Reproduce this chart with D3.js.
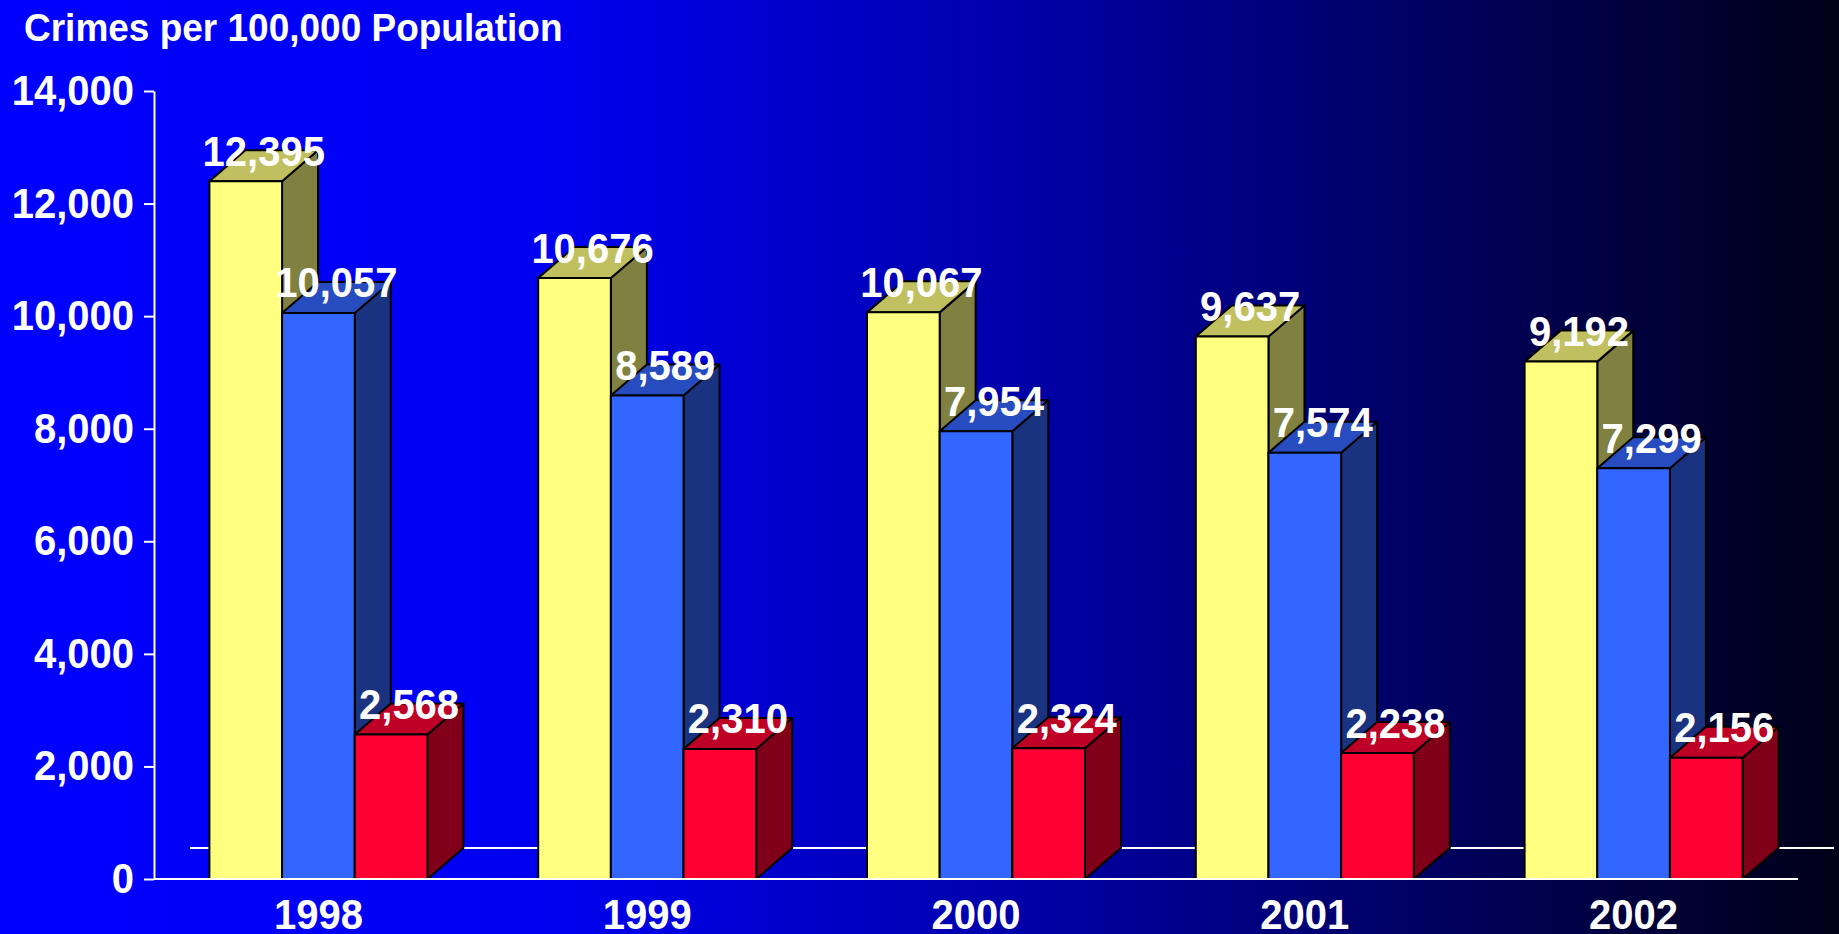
<!DOCTYPE html>
<html>
<head>
<meta charset="utf-8">
<script src="https://cdn.jsdelivr.net/npm/d3@7"></script>
<style>
  body { margin: 0; background: #000; }
  svg text { font-family: "Liberation Sans", Arial, sans-serif; font-weight: bold; fill: #fff; }
</style>
</head>
<body>
<script>
// data
var years = ["1998", "1999", "2000", "2001", "2002"];
var seriesKeys = ["total", "property", "violent"];
var totalCrime = [12395, 10676, 10067, 9637, 9192];
var propertyCrime = [10057, 8589, 7954, 7574, 7299];
var violentCrime = [2568, 2310, 2324, 2238, 2156];
var yTicks = [0, 2000, 4000, 6000, 8000, 10000, 12000, 14000];

var values = { total: totalCrime, property: propertyCrime, violent: violentCrime };

const w = 1839,
      h = 934,
      padLeft = 154,
      padRight = 1798,
      plotTop = 91,
      plotBottom = 879,
      groupW = 218,
      dx = 36,
      dy = 31,
      stretch = 1.05;   // the original type is a touch taller than Arial

// front / top / side shades
const colors = {
  total:    { front: "#FFFF80", top: "#C0C060", side: "#808040" },
  property: { front: "#3366FF", top: "#264CBF", side: "#1A3380" },
  violent:  { front: "#FF0033", top: "#BF0026", side: "#800019" }
};

const x0 = d3.scaleBand().domain(years).range([padLeft, padRight]);
const x1 = d3.scaleBand().domain(seriesKeys).range([0, groupW]);
const y = d3.scaleLinear().domain([0, 14000]).range([plotBottom, plotTop]);

const svg = d3.select("body").append("svg")
    .attr("width", w)
    .attr("height", h)
    .style("display", "block");

const grad = svg.append("defs").append("linearGradient")
    .attr("id", "bg")
    .attr("x1", "0%").attr("x2", "100%").attr("y1", "0%").attr("y2", "0%");
[[0, "#0000FF"], [0.3, "#0000F0"], [0.55, "#0000AA"], [0.76, "#000066"], [1, "#000018"]]
  .forEach(s => grad.append("stop").attr("offset", s[0]).attr("stop-color", s[1]));

svg.append("rect").attr("width", w).attr("height", h).attr("fill", "url(#bg)");

function place(x, yy) {
  return "translate(" + x + "," + yy + ") scale(1," + stretch + ")";
}

svg.append("text")
    .text("Crimes per 100,000 Population")
    .attr("transform", place(24, 41))
    .attr("font-size", 37);

// back edge of floor
svg.append("line")
    .attr("x1", padLeft + dx).attr("x2", padRight + dx)
    .attr("y1", plotBottom - dy).attr("y2", plotBottom - dy)
    .attr("stroke", "#fff").attr("stroke-width", 2);

// y axis
const yAxis = d3.axisLeft(y)
    .tickValues(yTicks)
    .tickFormat(d3.format(","))
    .tickSize(10)
    .tickSizeOuter(0)
    .tickPadding(10);

const gy = svg.append("g")
    .attr("transform", "translate(" + padLeft + ",0)")
    .call(yAxis);
gy.selectAll("path, line").attr("stroke", "#fff").attr("stroke-width", 2);
gy.selectAll("text").attr("font-size", 40).attr("fill", "#fff")
    .attr("transform", "scale(1," + stretch + ")");
gy.attr("font-family", null).attr("font-size", null);

// bars
const bars = [];
years.forEach((yr, i) => {
  seriesKeys.forEach(k => {
    bars.push({ year: yr, key: k, value: values[k][i] });
  });
});

const off = (x0.bandwidth() - groupW) / 2;

const g = svg.append("g").attr("stroke", "#000").attr("stroke-width", 2).attr("stroke-linejoin", "round");

bars.forEach(d => {
  const xa = x0(d.year) + off + x1(d.key),
        xb = xa + x1.bandwidth(),
        yt = y(d.value),
        yb = y(0),
        c = colors[d.key];
  g.append("path")
    .attr("d", "M" + xb + "," + yt + "L" + (xb + dx) + "," + (yt - dy) + "L" + (xb + dx) + "," + (yb - dy) + "L" + xb + "," + yb + "Z")
    .attr("fill", c.side);
  g.append("path")
    .attr("d", "M" + xa + "," + yt + "L" + (xa + dx) + "," + (yt - dy) + "L" + (xb + dx) + "," + (yt - dy) + "L" + xb + "," + yt + "Z")
    .attr("fill", c.top);
  g.append("rect")
    .attr("x", xa).attr("y", yt)
    .attr("width", x1.bandwidth()).attr("height", yb - yt)
    .attr("fill", c.front);
});

// x axis line
svg.append("line")
    .attr("x1", padLeft).attr("x2", padRight)
    .attr("y1", plotBottom).attr("y2", plotBottom)
    .attr("stroke", "#fff").attr("stroke-width", 2);

svg.selectAll(".year")
    .data(years)
    .enter()
    .append("text")
    .attr("class", "year")
    .text(d => d)
    .attr("transform", d => place(x0(d) + x0.bandwidth() / 2, 929))
    .attr("text-anchor", "middle")
    .attr("font-size", 40);

// value labels
svg.selectAll(".val")
    .data(bars)
    .enter()
    .append("text")
    .attr("class", "val")
    .text(d => d3.format(",")(d.value))
    .attr("transform", d => place(x0(d.year) + off + x1(d.key) + x1.bandwidth() / 2 + dx / 2, y(d.value) - dy / 2))
    .attr("text-anchor", "middle")
    .attr("font-size", 40);
</script>
</body>
</html>
